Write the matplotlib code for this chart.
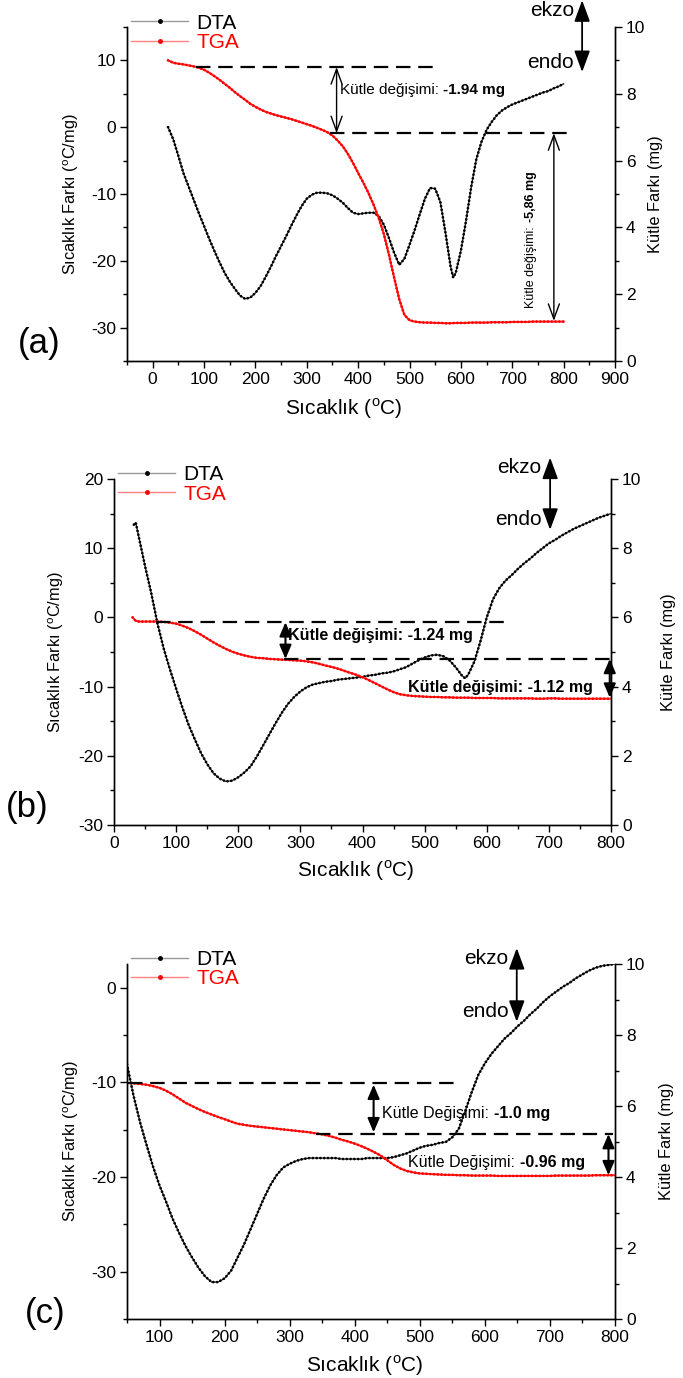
import matplotlib.pyplot as plt
from matplotlib.lines import Line2D
from matplotlib.ticker import MultipleLocator

plt.rcParams['font.family'] = ['Liberation Sans', 'DejaVu Sans']
plt.rcParams['mathtext.fontset'] = 'custom'
plt.rcParams['mathtext.rm'] = 'Liberation Sans'
plt.rcParams['mathtext.bf'] = 'Liberation Sans:bold'
plt.rcParams['axes.unicode_minus'] = False

W, H = 683, 1378

# ---------------- panel (a) ----------------
a_dta_t = [30, 40, 50, 60, 70, 80, 90, 100, 110, 120, 130, 140, 150, 160, 170, 180,
           190, 200, 210, 220, 230, 240, 250, 260, 270, 280, 290, 300, 310, 320, 330,
           340, 350, 360, 370, 380, 390, 400, 410, 420, 430, 440, 450, 460, 470, 480,
           490, 500, 510, 520, 530, 540, 550, 560, 570, 580, 585, 590, 600, 610, 620,
           630, 640, 650, 660, 670, 680, 690, 700, 710, 720, 730, 740, 750, 760, 770,
           780, 790, 800]
a_dta = [0.0, -1.8, -4.3, -6.9, -8.9, -10.9, -12.9, -14.8, -16.7, -18.5, -20.2, -21.8,
         -23.1, -24.2, -25.2, -25.7, -25.5, -24.8, -23.8, -22.4, -20.9, -19.3, -17.8,
         -16.3, -14.7, -13.2, -11.8, -10.7, -10.1, -9.8, -9.8, -9.9, -10.2, -10.7, -11.3,
         -12.1, -12.8, -13.0, -12.9, -12.8, -12.8, -13.3, -14.6, -16.6, -18.8, -20.6,
         -19.7, -17.6, -15.4, -13.0, -10.7, -9.1, -9.2, -11.2, -15.8, -20.9, -22.5,
         -21.8, -18.5, -14.0, -9.0, -4.8, -2.2, -0.4, 0.8, 1.8, 2.5, 3.0, 3.4, 3.7, 4.0,
         4.3, 4.6, 4.9, 5.2, 5.4, 5.8, 6.1, 6.5]
a_tga_t = [30, 40, 50, 60, 70, 80, 90, 100, 110, 120, 130, 140, 150, 160, 170, 180,
           190, 200, 210, 220, 230, 240, 250, 260, 270, 280, 290, 300, 310, 320, 330,
           340, 350, 360, 370, 380, 390, 400, 410, 420, 430, 440, 450, 460, 470, 480,
           490, 500, 510, 520, 530, 540, 550, 560, 570, 580, 590, 600, 610, 620, 630,
           640, 650, 660, 670, 680, 690, 700, 710, 720, 730, 740, 750, 760, 770, 780,
           790, 800]
a_tga = [9.0, 8.93, 8.9, 8.88, 8.85, 8.82, 8.78, 8.72, 8.63, 8.53, 8.42, 8.3, 8.18,
         8.05, 7.93, 7.82, 7.7, 7.61, 7.53, 7.46, 7.41, 7.36, 7.32, 7.28, 7.24, 7.19,
         7.14, 7.09, 7.04, 6.98, 6.92, 6.85, 6.75, 6.6, 6.43, 6.2, 5.93, 5.63, 5.34,
         5.03, 4.68, 4.28, 3.8, 3.18, 2.5, 1.85, 1.38, 1.22, 1.18, 1.16, 1.15, 1.15,
         1.14, 1.14, 1.13, 1.13, 1.14, 1.14, 1.14, 1.15, 1.15, 1.15, 1.15, 1.16, 1.16,
         1.16, 1.16, 1.17, 1.17, 1.17, 1.17, 1.18, 1.18, 1.18, 1.18, 1.18, 1.18, 1.18]

# ---------------- panel (b) ----------------
b_dta_t = [32, 35, 40, 50, 60, 70, 80, 90, 100, 110, 120, 130, 140, 150, 160, 170, 180,
           190, 200, 210, 220, 230, 240, 250, 260, 270, 280, 290, 300, 310, 320, 330,
           340, 350, 360, 370, 380, 390, 400, 410, 420, 430, 440, 450, 460, 470, 480,
           490, 500, 510, 520, 530, 540, 550, 560, 565, 570, 580, 590, 600, 610, 620,
           630, 640, 650, 660, 670, 680, 690, 700, 710, 720, 730, 740, 750, 760, 770,
           780, 790, 800]
b_dta = [13.4, 13.7, 11.6, 7.4, 3.5, -0.9, -4.5, -7.5, -10.3, -13.0, -15.5, -17.6,
         -19.6, -21.2, -22.5, -23.3, -23.7, -23.6, -23.1, -22.4, -21.5, -20.1, -18.5,
         -16.9, -15.3, -13.8, -12.5, -11.5, -10.7, -10.1, -9.7, -9.5, -9.3, -9.2, -9.0,
         -8.9, -8.8, -8.7, -8.6, -8.4, -8.3, -8.1, -8.0, -7.8, -7.5, -7.2, -6.7, -6.2,
         -5.8, -5.5, -5.4, -5.6, -6.2, -7.2, -8.4, -8.8, -8.3, -6.4, -3.4, 0.0, 2.6,
         4.2, 5.3, 6.1, 7.0, 7.8, 8.5, 9.3, 10.0, 10.7, 11.2, 11.8, 12.3, 12.8, 13.2,
         13.6, 14.0, 14.4, 14.7, 15.0]
b_tga_t = [30, 35, 40, 50, 60, 70, 80, 90, 100, 110, 120, 130, 140, 150, 160, 170, 180,
           190, 200, 210, 220, 230, 240, 250, 260, 270, 280, 290, 300, 310, 320, 330,
           340, 350, 360, 370, 380, 390, 400, 410, 420, 430, 440, 450, 460, 470, 480,
           490, 500, 510, 520, 530, 540, 550, 560, 570, 580, 590, 600, 610, 620, 630,
           640, 650, 660, 670, 680, 690, 700, 710, 720, 730, 740, 750, 760, 770, 780,
           790, 800]
b_tga = [6.0, 5.9, 5.88, 5.88, 5.88, 5.88, 5.87, 5.85, 5.82, 5.76, 5.69, 5.6, 5.5,
         5.39, 5.28, 5.18, 5.09, 5.01, 4.95, 4.9, 4.86, 4.83, 4.82, 4.8, 4.79, 4.78,
         4.77, 4.76, 4.75, 4.73, 4.7, 4.66, 4.61, 4.57, 4.52, 4.46, 4.4, 4.34, 4.27,
         4.19, 4.1, 4.01, 3.92, 3.84, 3.78, 3.75, 3.73, 3.72, 3.71, 3.7, 3.7, 3.69,
         3.69, 3.68, 3.68, 3.68, 3.67, 3.67, 3.67, 3.67, 3.66, 3.66, 3.66, 3.66, 3.66,
         3.66, 3.65, 3.65, 3.66, 3.66, 3.65, 3.65, 3.65, 3.65, 3.65, 3.65, 3.65, 3.65,
         3.65]

# ---------------- panel (c) ----------------
c_t = [50, 60, 70, 80, 90, 100, 110, 120, 130, 140, 150, 160, 170, 180, 190, 200, 210,
       220, 230, 240, 250, 260, 270, 280, 290, 300, 310, 320, 330, 340, 350, 360, 370,
       380, 390, 400, 410, 420, 430, 440, 450, 460, 470, 480, 490, 500, 510, 520, 530,
       540, 550, 560, 570, 580, 590, 600, 610, 620, 630, 640, 650, 660, 670, 680, 690,
       700, 710, 720, 730, 740, 750, 760, 770, 780, 790, 800]
c_dta = [-8.1, -11.4, -14.2, -16.6, -18.9, -20.9, -22.6, -24.4, -25.9, -27.3, -28.5,
         -29.6, -30.5, -31.1, -31.1, -30.7, -29.9, -28.5, -27.1, -25.5, -23.9, -22.3,
         -20.9, -19.8, -19.0, -18.6, -18.3, -18.1, -18.0, -18.0, -18.0, -18.0, -18.0,
         -18.1, -18.1, -18.1, -18.1, -18.0, -18.0, -18.0, -18.0, -17.9, -17.7, -17.5,
         -17.2, -16.9, -16.7, -16.6, -16.4, -16.3, -15.8, -14.9, -13.0, -11.0, -9.2,
         -8.0, -7.0, -6.2, -5.4, -4.8, -4.1, -3.5, -2.8, -2.2, -1.5, -0.9, -0.4, 0.1,
         0.5, 1.0, 1.4, 1.8, 2.1, 2.3, 2.4, 2.5]
c_tga = [6.65, 6.64, 6.62, 6.6, 6.56, 6.51, 6.43, 6.33, 6.21, 6.09, 6.0, 5.91, 5.83,
         5.76, 5.69, 5.63, 5.56, 5.5, 5.47, 5.44, 5.42, 5.4, 5.38, 5.36, 5.34, 5.32,
         5.3, 5.28, 5.26, 5.23, 5.2, 5.16, 5.11, 5.05, 5.0, 4.94, 4.87, 4.79, 4.7, 4.6,
         4.47, 4.34, 4.24, 4.17, 4.13, 4.1, 4.09, 4.08, 4.07, 4.06, 4.06, 4.05, 4.05,
         4.04, 4.04, 4.04, 4.04, 4.03, 4.03, 4.03, 4.03, 4.03, 4.03, 4.03, 4.03, 4.03,
         4.04, 4.04, 4.04, 4.04, 4.04, 4.04, 4.05, 4.05, 4.05, 4.05]

y_label_left = r'Sıcaklık Farkı ($^{\rm o}$C/mg)'
y_label_right = 'Kütle Farkı (mg)'
x_label = r'Sıcaklık ($^{\rm o}$C)'

fig = plt.figure(figsize=(W / 100, H / 100), dpi=100)


def dotted_curve(a, t, v, base, dot, base_lw):
    # thin connecting line + dense dots, like the instrument export
    a.plot(t, v, color=base, lw=base_lw, zorder=2)
    a.plot(t, v, color=dot, lw=2.0, ls=(0, (0.01, 1.35)),
           dash_capstyle='round', zorder=2)


def make_panel(box, xlim, ylim, dta_t, dta, tga_t, tga):
    l, t, r, b = box
    ax = fig.add_axes([l / W, 1 - b / H, (r - l) / W, (b - t) / H])
    ax2 = ax.twinx()
    ax.set_xlim(*xlim)
    ax.set_ylim(*ylim)
    ax2.set_ylim(0, 10)
    ax.xaxis.set_major_locator(MultipleLocator(100))
    ax.xaxis.set_minor_locator(MultipleLocator(50))
    ax.yaxis.set_major_locator(MultipleLocator(10))
    ax.yaxis.set_minor_locator(MultipleLocator(5))
    ax2.yaxis.set_major_locator(MultipleLocator(2))
    ax2.yaxis.set_minor_locator(MultipleLocator(1))
    for a in (ax, ax2):
        a.spines['top'].set_visible(False)
        for s in a.spines.values():
            s.set_linewidth(1.0)
        a.tick_params(which='major', direction='out', length=5, width=1.0,
                      labelsize=12.5, pad=3)
        a.tick_params(which='minor', direction='out', length=3, width=1.0)
    dotted_curve(ax, dta_t, dta, '#333333', 'black', 1.0)
    dotted_curve(ax2, tga_t, tga, '#ff2020', 'red', 1.4)
    ax.set_ylabel(y_label_left, fontsize=11.8)
    ax2.set_ylabel(y_label_right, fontsize=11.8)
    ax.set_xlabel(x_label, fontsize=15)
    handles = [Line2D([], [], color='#999999', lw=1.0, marker='o', ms=2.5,
                      mfc='black', mec='black'),
               Line2D([], [], color='#ff8080', lw=1.0, marker='o', ms=2.5,
                      mfc='red', mec='red')]
    ax2.legend(handles, ['DTA', 'TGA'], loc='upper left', bbox_to_anchor=(0.008, 1.04),
               frameon=False, fontsize=15, handlelength=2.75, handletextpad=0.4,
               labelspacing=0.02, borderaxespad=0, borderpad=0, numpoints=1,
               labelcolor=['black', 'red'])
    return ax, ax2


def dashed(ax2, x0, x1, y):
    ax2.plot([x0, x1], [y, y], color='black', lw=1.6, ls=(0, (6.5, 3.5)), zorder=3)


def varrow(ax2, x, y0, y1, style, lw):
    ax2.annotate('', xy=(x, y1), xytext=(x, y0),
                 arrowprops=dict(arrowstyle=style, color='black', lw=lw,
                                 shrinkA=0, shrinkB=0, mutation_scale=12))


def mass_text(ax2, x, y, plain, bold, fs, rotation=0):
    # normal text followed by a bold value
    if rotation:
        t1 = ax2.text(x, y, plain, fontsize=fs, rotation=90, ha='center', va='bottom')
        ax2.annotate(bold, xy=(0.5, 1.0), xycoords=t1, fontsize=fs, fontweight='bold',
                     rotation=90, ha='center', va='bottom')
    else:
        t1 = ax2.text(x, y, plain, fontsize=fs, ha='left', va='center')
        ax2.annotate(bold, xy=(1.0, 0.5), xycoords=t1, fontsize=fs, fontweight='bold',
                     ha='left', va='center')


def ekzo_endo(ax2, x, ytop, ybot, xtext):
    tr = ax2.get_xaxis_transform()
    ax2.annotate('', xy=(x, ytop), xytext=(x, ybot), xycoords=tr, textcoords=tr,
                 arrowprops=dict(arrowstyle='<|-|>,head_length=0.65,head_width=0.24',
                                 color='black', lw=1.3, shrinkA=0, shrinkB=0,
                                 mutation_scale=20))
    ax2.text(xtext, ytop - 0.03, 'ekzo', transform=tr, ha='right', va='center',
             fontsize=15, clip_on=False)
    ax2.text(xtext, ybot + 0.03, 'endo', transform=tr, ha='right', va='center',
             fontsize=15, clip_on=False)


open_head = '<->,head_length=0.9,head_width=0.33'
full_head = '<|-|>,head_length=0.7,head_width=0.3'

# ---- (a) ----
ax, ax2 = make_panel((127, 27, 615, 361), (-50, 900), (-35, 15),
                     a_dta_t, a_dta, a_tga_t, a_tga)
ax.yaxis.set_label_coords(-0.095, 0.5)
ax2.yaxis.set_label_coords(1.068, 0.5)
ax.xaxis.set_label_coords(0.445, -0.105)
dashed(ax2, 85, 555, 8.8)
dashed(ax2, 345, 815, 6.82)
varrow(ax2, 358, 8.8, 6.82, open_head, 1.0)
varrow(ax2, 781, 6.82, 1.2, open_head, 1.0)
mass_text(ax2, 365, 8.12, 'Kütle değişimi: ', '-1.94 mg', 11)
mass_text(ax2, 737, 1.6, 'Kütle değişimi: ', '-5,86 mg', 9, rotation=90)
ekzo_endo(ax2, 836, 1.08, 0.865, 820)
fig.text(39 / W, 1 - 343 / H, '(a)', fontsize=25, ha='center', va='center')

# ---- (b) ----
ax, ax2 = make_panel((114, 479, 611, 825), (0, 800), (-30, 20),
                     b_dta_t, b_dta, b_tga_t, b_tga)
ax.yaxis.set_label_coords(-0.096, 0.5)
ax2.yaxis.set_label_coords(1.1, 0.5)
ax.xaxis.set_label_coords(0.487, -0.097)
dashed(ax2, 67, 628, 5.86)
dashed(ax2, 273, 808, 4.80)
varrow(ax2, 276, 5.86, 4.80, full_head, 1.5)
varrow(ax2, 798, 4.80, 3.68, full_head, 1.5)
ax2.text(280, 5.48, 'Kütle değişimi: -1.24 mg', fontsize=11.5, fontweight='bold',
         ha='left', va='center')
ax2.text(474, 3.98, 'Kütle değişimi: -1.12 mg', fontsize=11.5, fontweight='bold',
         ha='left', va='center')
ekzo_endo(ax2, 702, 1.062, 0.853, 688)
fig.text(27 / W, 1 - 807 / H, '(b)', fontsize=25, ha='center', va='center')

# ---- (c) ----
ax, ax2 = make_panel((127, 964, 615, 1319), (50, 800), (-35, 2.5),
                     c_t, c_dta, c_t, c_tga)
ax.yaxis.set_label_coords(-0.094, 0.5)
ax2.yaxis.set_label_coords(1.09, 0.5)
ax.xaxis.set_label_coords(0.487, -0.097)
dashed(ax2, 51, 561, 6.66)
dashed(ax2, 341, 797, 5.21)
varrow(ax2, 429, 6.6, 5.26, full_head, 1.5)
varrow(ax2, 790, 5.21, 4.05, full_head, 1.5)
mass_text(ax2, 442, 5.79, 'Kütle Değişimi: ', '-1.0 mg', 11.5)
mass_text(ax2, 482, 4.40, 'Kütle Değişimi: ', '-0.96 mg', 11.5)
ekzo_endo(ax2, 649, 1.045, 0.837, 636)
fig.text(45 / W, 1 - 1314 / H, '(c)', fontsize=25, ha='center', va='center')

fig.savefig('out.png', dpi=100)
